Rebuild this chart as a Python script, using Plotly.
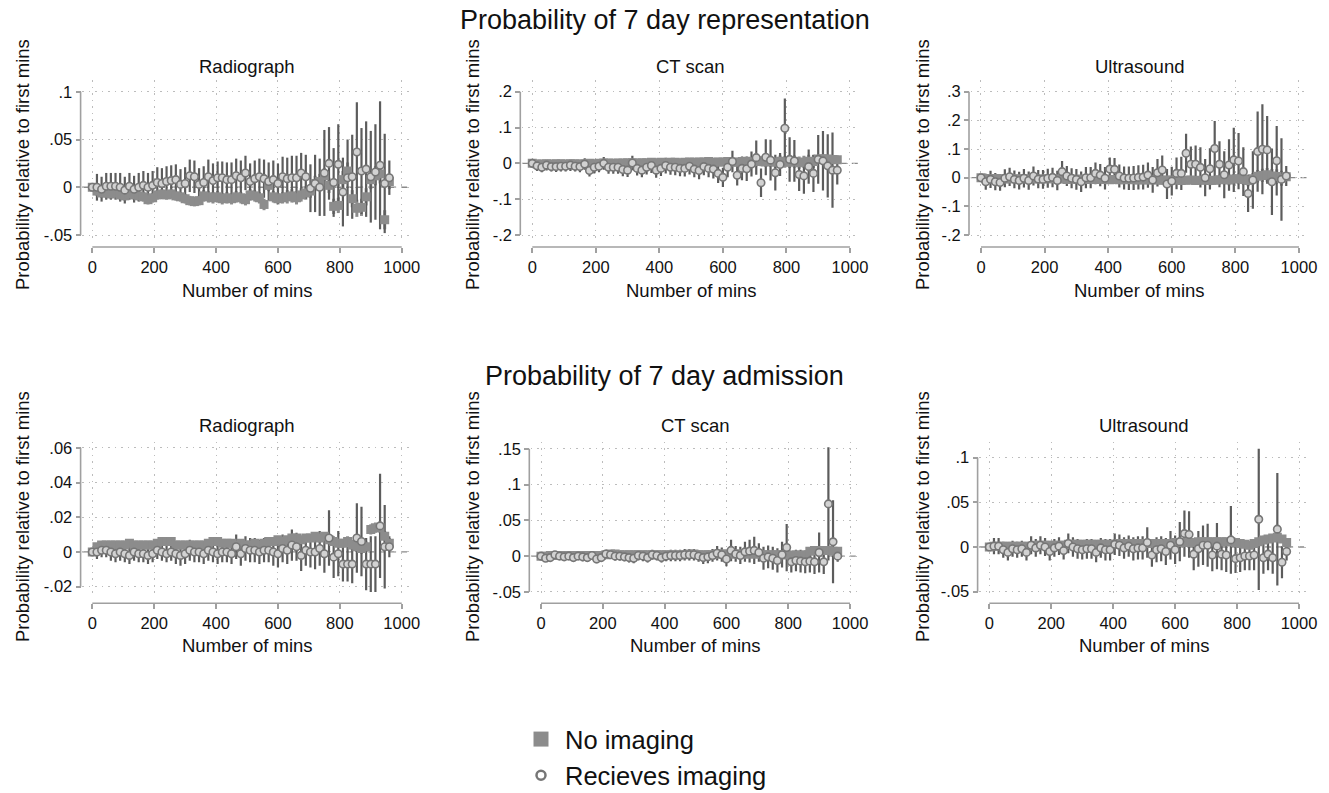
import plotly.graph_objects as go

W, H = 1329, 793
FONT = "Liberation Sans, Arial, sans-serif"
GREY_SQ = "#8c8c8c"
GREY_CIRC = "#767676"
GREY_BAR = "#5c5c5c"
AXIS_COL = "#a0a0a0"

# ---------------- data ----------------
mins = [0, 15, 30, 45, 60, 75, 90, 105, 120, 135, 150, 165, 180, 195, 210, 225,
        240, 255, 270, 285, 300, 315, 330, 345, 360, 375, 390, 405, 420, 435, 450,
        465, 480, 495, 510, 525, 540, 555, 570, 585, 600, 615, 630, 645, 660, 675,
        690, 705, 720, 735, 750, 765, 780, 795, 810, 825, 840, 855, 870, 885, 900,
        915, 930, 945, 960]

x_ticks = [0, 200, 400, 600, 800, 1000]
x_tick_labels = ["0", "200", "400", "600", "800", "1000"]

row_titles = ["Probability of 7 day representation", "Probability of 7 day admission"]
panel_titles = ["Radiograph", "CT scan", "Ultrasound", "Radiograph", "CT scan", "Ultrasound"]
series_names = ["No imaging", "Recieves imaging"]
x_title = "Number of mins"
y_title = "Probability relative to first mins"

# --- 7 day representation: Radiograph
rep_rad_img = [0, 0.000, -0.002, 0.001, 0.001, 0.001, 0.000, -0.003, 0.001, -0.002,
               0.000, 0.002, 0.000, 0.002, 0.005, 0.004, 0.006, 0.007, 0.008, 0.003,
               0.004, 0.012, 0.011, 0.003, 0.005, 0.011, 0.007, 0.010, 0.010, 0.008,
               0.008, 0.012, 0.010, 0.015, 0.006, 0.009, 0.011, 0.009, 0.006, 0.008,
               0.004, 0.011, 0.009, 0.010, 0.010, 0.015, 0.011, -0.001, 0.004, 0.000,
               0.015, 0.025, 0.005, 0.024, -0.005, 0.010, 0.011, 0.037, 0.017, 0.019,
               0.011, 0.016, 0.023, 0.004, 0.010]
rep_rad_img_ci = [0, 0.014, 0.013, 0.014, 0.014, 0.014, 0.015, 0.014, 0.014, 0.014,
                  0.015, 0.015, 0.015, 0.015, 0.016, 0.016, 0.016, 0.016, 0.016, 0.016,
                  0.017, 0.017, 0.017, 0.017, 0.017, 0.018, 0.018, 0.017, 0.017, 0.018,
                  0.018, 0.018, 0.018, 0.018, 0.019, 0.019, 0.019, 0.020, 0.020, 0.020,
                  0.021, 0.021, 0.022, 0.023, 0.023, 0.021, 0.023, 0.025, 0.030, 0.030,
                  0.045, 0.038, 0.036, 0.042, 0.036, 0.040, 0.044, 0.052, 0.045, 0.050,
                  0.048, 0.050, 0.067, 0.052, 0.018]
rep_rad_none = [0, -0.004, -0.006, -0.006, -0.007, -0.006, -0.008, -0.009, -0.007, -0.008,
                -0.009, -0.010, -0.013, -0.011, -0.008, -0.007, -0.008, -0.007, -0.009, -0.010,
                -0.012, -0.014, -0.015, -0.014, -0.009, -0.010, -0.011, -0.010, -0.012, -0.011,
                -0.012, -0.010, -0.011, -0.013, -0.008, -0.009, -0.011, -0.018, 0.002, -0.010,
                -0.012, -0.011, -0.010, -0.009, -0.011, -0.008, -0.006, -0.004, 0.004, 0.006,
                0.012, 0.002, -0.020, -0.019, 0.008, 0.017, -0.012, -0.022, -0.021, -0.010,
                0.008, 0.012, 0.014, -0.034, 0.006]
rep_rad_none_ci = [0, 0.005, 0.005, 0.005, 0.005, 0.005, 0.005, 0.005, 0.005, 0.005,
                   0.005, 0.005, 0.005, 0.005, 0.005, 0.005, 0.005, 0.005, 0.005, 0.005,
                   0.005, 0.005, 0.005, 0.005, 0.006, 0.006, 0.006, 0.006, 0.006, 0.006,
                   0.006, 0.006, 0.006, 0.006, 0.006, 0.006, 0.006, 0.006, 0.006, 0.006,
                   0.006, 0.006, 0.007, 0.007, 0.007, 0.007, 0.007, 0.007, 0.008, 0.008,
                   0.008, 0.008, 0.008, 0.008, 0.009, 0.009, 0.009, 0.009, 0.009, 0.009,
                   0.010, 0.010, 0.010, 0.010, 0.008]

# --- 7 day representation: CT scan
rep_ct_img = [0, -0.007, -0.011, -0.005, -0.009, -0.009, -0.008, -0.008, -0.005, -0.008,
              -0.009, -0.002, -0.020, -0.011, -0.008, 0.000, -0.011, -0.011, -0.011, -0.017,
              -0.019, 0.001, -0.014, -0.019, -0.011, -0.006, -0.019, -0.014, -0.006, -0.011,
              -0.011, -0.014, -0.014, -0.008, -0.016, -0.020, -0.009, -0.014, -0.016, -0.028,
              -0.039, -0.011, 0.005, -0.033, -0.014, -0.015, -0.002, 0.016, -0.054, 0.017,
              0.009, -0.026, -0.003, 0.098, 0.011, 0.007, -0.031, -0.035, -0.009, -0.028,
              0.011, 0.007, -0.007, -0.019, -0.019]
rep_ct_img_ci = [0, 0.014, 0.014, 0.015, 0.014, 0.015, 0.015, 0.015, 0.016, 0.015,
                 0.016, 0.016, 0.017, 0.017, 0.017, 0.018, 0.018, 0.018, 0.018, 0.019,
                 0.019, 0.020, 0.020, 0.020, 0.020, 0.021, 0.021, 0.021, 0.022, 0.021,
                 0.022, 0.022, 0.023, 0.023, 0.023, 0.024, 0.024, 0.025, 0.026, 0.027,
                 0.027, 0.028, 0.030, 0.029, 0.033, 0.034, 0.035, 0.048, 0.040, 0.050,
                 0.057, 0.050, 0.032, 0.083, 0.062, 0.058, 0.046, 0.050, 0.048, 0.052,
                 0.068, 0.083, 0.088, 0.105, 0.040]
rep_ct_none = [0, -0.002, -0.002, -0.001, -0.002, -0.001, -0.001, -0.002, -0.001, -0.001,
               -0.002, -0.001, 0.000, -0.001, 0.000, 0.001, 0.001, 0.000, 0.001, 0.001,
               0.002, 0.002, 0.001, 0.002, 0.002, 0.003, 0.002, 0.003, 0.002, 0.003,
               0.003, 0.002, 0.003, 0.004, 0.003, 0.004, 0.004, 0.005, 0.003, 0.004,
               0.004, 0.005, 0.004, 0.003, 0.005, 0.006, 0.004, 0.005, 0.006, 0.004,
               0.005, 0.003, 0.006, 0.004, 0.003, 0.005, 0.002, 0.004, 0.006, 0.005,
               0.012, 0.013, 0.012, 0.011, 0.010]
rep_ct_none_ci = [0, 0.004, 0.004, 0.004, 0.004, 0.004, 0.004, 0.004, 0.004, 0.004,
                  0.005, 0.005, 0.005, 0.005, 0.005, 0.005, 0.005, 0.005, 0.005, 0.005,
                  0.005, 0.006, 0.006, 0.006, 0.006, 0.006, 0.006, 0.006, 0.006, 0.007,
                  0.007, 0.007, 0.007, 0.007, 0.008, 0.008, 0.008, 0.008, 0.009, 0.009,
                  0.009, 0.010, 0.010, 0.010, 0.011, 0.011, 0.012, 0.013, 0.014, 0.014,
                  0.015, 0.015, 0.016, 0.016, 0.016, 0.017, 0.017, 0.017, 0.018, 0.018,
                  0.012, 0.012, 0.012, 0.012, 0.012]

# --- 7 day representation: Ultrasound
rep_us_img = [0, -0.014, -0.006, -0.014, -0.017, -0.002, 0.003, -0.006, -0.010, -0.002,
              -0.010, 0.006, -0.005, -0.006, -0.002, 0.001, -0.010, 0.021, 0.006, -0.002,
              -0.006, -0.014, 0.000, 0.000, 0.015, 0.009, -0.002, 0.030, 0.029, 0.006,
              -0.001, -0.002, -0.001, 0.001, 0.002, 0.009, -0.008, 0.017, 0.027, -0.022,
              -0.012, 0.015, 0.015, 0.085, 0.047, 0.047, 0.036, 0.000, 0.031, 0.102,
              0.047, 0.010, 0.044, 0.062, 0.058, 0.021, -0.055, -0.008, 0.091, 0.099,
              0.097, -0.014, 0.059, -0.006, 0.006]
rep_us_img_ci = [0, 0.028, 0.030, 0.030, 0.029, 0.031, 0.032, 0.031, 0.031, 0.032,
                 0.032, 0.033, 0.032, 0.033, 0.033, 0.034, 0.034, 0.037, 0.035, 0.035,
                 0.036, 0.036, 0.037, 0.037, 0.038, 0.039, 0.039, 0.040, 0.040, 0.040,
                 0.040, 0.041, 0.042, 0.042, 0.043, 0.044, 0.045, 0.048, 0.050, 0.052,
                 0.050, 0.055, 0.058, 0.068, 0.062, 0.065, 0.070, 0.065, 0.072, 0.096,
                 0.080, 0.082, 0.090, 0.112, 0.098, 0.085, 0.065, 0.100, 0.140, 0.157,
                 0.118, 0.116, 0.121, 0.144, 0.035]
rep_us_none = [0, -0.003, -0.004, -0.003, -0.004, -0.005, -0.004, -0.004, -0.005, -0.004,
               -0.005, -0.004, -0.005, -0.005, -0.004, -0.004, -0.005, -0.004, -0.006, -0.005,
               -0.006, -0.005, -0.006, -0.005, -0.006, -0.005, -0.006, -0.007, -0.006, -0.007,
               -0.007, -0.006, -0.007, -0.008, -0.007, -0.008, -0.007, -0.008, -0.009, -0.008,
               -0.009, -0.008, -0.010, -0.009, -0.008, -0.010, -0.009, -0.008, -0.010, -0.009,
               -0.007, -0.006, -0.008, -0.005, -0.004, -0.006, -0.010, -0.004, 0.005, 0.008,
               0.010, 0.006, 0.004, -0.002, 0.003]
rep_us_none_ci = [0, 0.005, 0.005, 0.005, 0.005, 0.005, 0.006, 0.006, 0.006, 0.006,
                  0.006, 0.006, 0.006, 0.007, 0.007, 0.007, 0.007, 0.007, 0.007, 0.007,
                  0.008, 0.008, 0.008, 0.008, 0.008, 0.008, 0.009, 0.009, 0.009, 0.009,
                  0.009, 0.010, 0.010, 0.010, 0.010, 0.011, 0.011, 0.011, 0.012, 0.012,
                  0.012, 0.013, 0.013, 0.014, 0.014, 0.014, 0.015, 0.015, 0.016, 0.016,
                  0.017, 0.017, 0.018, 0.018, 0.019, 0.019, 0.020, 0.020, 0.022, 0.023,
                  0.024, 0.024, 0.025, 0.026, 0.014]

# --- 7 day admission: Radiograph
adm_rad_img = [0, 0.000, 0.001, 0.001, 0.000, -0.001, 0.000, -0.001, -0.002, 0.000,
               -0.001, -0.001, -0.002, -0.001, 0.001, 0.000, -0.001, 0.000, -0.001, -0.002,
               -0.001, 0.001, 0.000, 0.000, -0.001, 0.001, 0.000, -0.001, 0.000, 0.000,
               -0.001, 0.003, -0.001, 0.002, 0.001, 0.001, 0.000, 0.001, 0.001, 0.000,
               -0.001, 0.002, 0.001, 0.004, 0.003, -0.002, 0.001, 0.000, 0.000, 0.002,
               -0.001, 0.008, -0.003, -0.001, -0.007, -0.007, -0.007, 0.008, 0.006, -0.007,
               -0.007, -0.007, 0.015, 0.003, 0.003]
adm_rad_img_ci = [0, 0.004, 0.004, 0.004, 0.005, 0.005, 0.005, 0.005, 0.005, 0.005,
                  0.005, 0.005, 0.005, 0.005, 0.005, 0.005, 0.005, 0.005, 0.006, 0.006,
                  0.006, 0.006, 0.006, 0.006, 0.006, 0.006, 0.006, 0.006, 0.006, 0.006,
                  0.006, 0.007, 0.007, 0.007, 0.007, 0.007, 0.007, 0.007, 0.007, 0.008,
                  0.008, 0.008, 0.008, 0.009, 0.008, 0.009, 0.009, 0.009, 0.010, 0.010,
                  0.011, 0.016, 0.012, 0.013, 0.010, 0.010, 0.011, 0.020, 0.020, 0.015,
                  0.016, 0.016, 0.030, 0.024, 0.006]
adm_rad_none = [0, 0.003, 0.004, 0.004, 0.004, 0.004, 0.004, 0.004, 0.005, 0.004,
                0.004, 0.004, 0.004, 0.004, 0.005, 0.006, 0.006, 0.006, 0.004, 0.004,
                0.004, 0.004, 0.004, 0.004, 0.004, 0.005, 0.006, 0.006, 0.005, 0.005,
                0.005, 0.004, 0.005, 0.004, 0.004, 0.005, 0.004, 0.005, 0.006, 0.006,
                0.007, 0.006, 0.007, 0.008, 0.008, 0.007, 0.008, 0.008, 0.009, 0.008,
                0.009, 0.007, 0.006, 0.005, 0.005, 0.006, 0.004, 0.003, 0.002, 0.003,
                0.013, 0.014, 0.014, 0.009, 0.005]
adm_rad_none_ci = [0, 0.001, 0.001, 0.001, 0.001, 0.001, 0.001, 0.001, 0.001, 0.001,
                   0.001, 0.001, 0.001, 0.001, 0.001, 0.001, 0.001, 0.001, 0.001, 0.001,
                   0.0015, 0.0015, 0.0015, 0.0015, 0.0015, 0.0015, 0.0015, 0.0015, 0.0015, 0.0015,
                   0.0015, 0.0015, 0.0015, 0.0015, 0.0015, 0.0015, 0.0015, 0.002, 0.002, 0.002,
                   0.002, 0.002, 0.002, 0.002, 0.002, 0.002, 0.002, 0.002, 0.0025, 0.0025,
                   0.0025, 0.0025, 0.0025, 0.0025, 0.0025, 0.003, 0.003, 0.003, 0.003, 0.003,
                   0.003, 0.003, 0.003, 0.003, 0.003]

# --- 7 day admission: CT scan
adm_ct_img = [0, -0.003, -0.002, 0.002, 0.000, -0.001, 0.000, -0.002, 0.000, -0.001,
              -0.002, 0.001, -0.004, -0.002, 0.003, 0.002, 0.000, 0.000, -0.001, -0.002,
              -0.003, 0.001, 0.000, -0.002, 0.002, 0.001, -0.002, 0.000, 0.001, 0.001,
              0.001, 0.002, 0.002, 0.002, 0.000, -0.002, -0.001, 0.001, 0.004, 0.002,
              -0.004, 0.008, 0.003, 0.001, 0.006, 0.007, 0.008, 0.005, -0.003, -0.001,
              -0.003, -0.006, 0.002, 0.012, -0.008, -0.006, -0.007, -0.008, -0.007, -0.008,
              0.005, -0.008, 0.073, 0.020, 0.000]
adm_ct_img_ci = [0, 0.005, 0.005, 0.005, 0.005, 0.005, 0.005, 0.005, 0.005, 0.006,
                 0.006, 0.006, 0.006, 0.006, 0.006, 0.006, 0.006, 0.006, 0.006, 0.007,
                 0.007, 0.007, 0.007, 0.007, 0.007, 0.007, 0.007, 0.007, 0.008, 0.008,
                 0.008, 0.008, 0.008, 0.008, 0.008, 0.009, 0.009, 0.009, 0.010, 0.010,
                 0.010, 0.015, 0.011, 0.012, 0.014, 0.016, 0.019, 0.013, 0.016, 0.016,
                 0.016, 0.017, 0.018, 0.033, 0.015, 0.015, 0.016, 0.016, 0.016, 0.017,
                 0.028, 0.017, 0.079, 0.058, 0.008]
adm_ct_none = [0, 0.000, 0.001, 0.001, 0.001, 0.001, 0.001, 0.001, 0.001, 0.001,
               0.001, 0.001, 0.001, 0.001, 0.002, 0.003, 0.003, 0.002, 0.002, 0.002,
               0.002, 0.002, 0.002, 0.002, 0.002, 0.002, 0.002, 0.002, 0.002, 0.002,
               0.002, 0.002, 0.003, 0.003, 0.002, 0.002, 0.002, 0.002, 0.003, 0.003,
               0.003, 0.003, 0.003, 0.003, 0.003, 0.003, 0.003, 0.003, 0.002, 0.002,
               0.002, 0.002, 0.002, 0.002, 0.001, 0.002, 0.001, 0.002, 0.007, 0.008,
               0.008, 0.008, 0.008, 0.007, 0.007]
adm_ct_none_ci = [0, 0.002, 0.002, 0.002, 0.002, 0.002, 0.002, 0.002, 0.002, 0.002,
                  0.002, 0.002, 0.002, 0.002, 0.002, 0.002, 0.0025, 0.0025, 0.0025, 0.0025,
                  0.0025, 0.0025, 0.0025, 0.0025, 0.0025, 0.0025, 0.0025, 0.0025, 0.003, 0.003,
                  0.003, 0.003, 0.003, 0.003, 0.003, 0.003, 0.003, 0.003, 0.0035, 0.0035,
                  0.0035, 0.0035, 0.0035, 0.0035, 0.0035, 0.004, 0.004, 0.004, 0.004, 0.004,
                  0.004, 0.004, 0.004, 0.0045, 0.0045, 0.0045, 0.0045, 0.0045, 0.005, 0.005,
                  0.005, 0.005, 0.005, 0.005, 0.005]

# --- 7 day admission: Ultrasound
adm_us_img = [0, 0.001, 0.001, -0.003, -0.006, -0.002, -0.003, -0.002, -0.006, 0.002,
              -0.001, 0.002, 0.000, -0.005, -0.001, 0.001, -0.004, 0.004, 0.000, -0.002,
              -0.003, -0.002, -0.002, -0.006, -0.001, -0.003, -0.003, 0.003, 0.002, -0.001,
              0.001, -0.002, -0.001, -0.001, 0.005, -0.009, -0.003, -0.002, -0.005, 0.002,
              -0.003, 0.006, 0.015, 0.014, -0.008, -0.002, 0.002, 0.002, -0.009, 0.001,
              -0.008, -0.009, 0.008, -0.013, -0.012, -0.010, -0.010, -0.009, 0.031, -0.012,
              -0.008, -0.012, 0.020, -0.017, -0.005]
adm_us_img_ci = [0, 0.009, 0.009, 0.009, 0.009, 0.009, 0.009, 0.009, 0.009, 0.010,
                 0.010, 0.010, 0.010, 0.010, 0.010, 0.010, 0.010, 0.011, 0.011, 0.011,
                 0.011, 0.011, 0.011, 0.011, 0.011, 0.012, 0.012, 0.012, 0.012, 0.012,
                 0.012, 0.013, 0.013, 0.013, 0.017, 0.013, 0.014, 0.014, 0.015, 0.016,
                 0.016, 0.022, 0.026, 0.026, 0.018, 0.020, 0.022, 0.024, 0.018, 0.026,
                 0.018, 0.019, 0.038, 0.016, 0.016, 0.016, 0.016, 0.017, 0.079, 0.018,
                 0.018, 0.018, 0.063, 0.018, 0.010]
adm_us_none = [0, 0.001, 0.001, 0.001, 0.001, 0.001, 0.001, 0.001, 0.001, 0.001,
               0.002, 0.002, 0.002, 0.002, 0.002, 0.002, 0.002, 0.003, 0.003, 0.003,
               0.003, 0.003, 0.003, 0.003, 0.003, 0.003, 0.003, 0.003, 0.004, 0.004,
               0.004, 0.004, 0.004, 0.004, 0.004, 0.004, 0.004, 0.004, 0.004, 0.004,
               0.005, 0.005, 0.005, 0.005, 0.005, 0.006, 0.006, 0.006, 0.006, 0.006,
               0.006, 0.006, 0.006, 0.005, 0.004, 0.003, 0.002, 0.004, 0.006, 0.008,
               0.009, 0.010, 0.011, 0.009, 0.005]
adm_us_none_ci = [0, 0.002, 0.002, 0.002, 0.002, 0.002, 0.002, 0.002, 0.002, 0.002,
                  0.002, 0.002, 0.002, 0.002, 0.002, 0.0025, 0.0025, 0.0025, 0.0025, 0.0025,
                  0.0025, 0.0025, 0.0025, 0.0025, 0.0025, 0.0025, 0.003, 0.003, 0.003, 0.003,
                  0.003, 0.003, 0.003, 0.003, 0.003, 0.003, 0.003, 0.0035, 0.0035, 0.0035,
                  0.0035, 0.0035, 0.0035, 0.0035, 0.004, 0.004, 0.004, 0.004, 0.004, 0.004,
                  0.004, 0.004, 0.004, 0.004, 0.004, 0.004, 0.004, 0.0045, 0.0045, 0.0045,
                  0.0045, 0.0045, 0.0045, 0.0045, 0.004]

y_ticks = [
    [-0.05, 0, 0.05, 0.1],
    [-0.2, -0.1, 0, 0.1, 0.2],
    [-0.2, -0.1, 0, 0.1, 0.2, 0.3],
    [-0.02, 0, 0.02, 0.04, 0.06],
    [-0.05, 0, 0.05, 0.1, 0.15],
    [-0.05, 0, 0.05, 0.1],
]
y_tick_labels = [
    ["-.05", "0", ".05", ".1"],
    ["-.2", "-.1", "0", ".1", ".2"],
    ["-.2", "-.1", "0", ".1", ".2", ".3"],
    ["-.02", "0", ".02", ".04", ".06"],
    ["-.05", "0", ".05", ".1", ".15"],
    ["-.05", "0", ".05", ".1"],
]

panel_data = [
    (rep_rad_none, rep_rad_none_ci, rep_rad_img, rep_rad_img_ci),
    (rep_ct_none, rep_ct_none_ci, rep_ct_img, rep_ct_img_ci),
    (rep_us_none, rep_us_none_ci, rep_us_img, rep_us_img_ci),
    (adm_rad_none, adm_rad_none_ci, adm_rad_img, adm_rad_img_ci),
    (adm_ct_none, adm_ct_none_ci, adm_ct_img, adm_ct_img_ci),
    (adm_us_none, adm_us_none_ci, adm_us_img, adm_us_img_ci),
]

# ---------------- layout geometry (pixels) ----------------
XRANGE = [-33, 1030]
geo = [
    ((82.1, 411.0), (80.0, 242.0), (-0.0573, 0.1123)),
    ((521.8, 859.5), (80.0, 242.0), (-0.2195, 0.2327)),
    ((970.5, 1308.5), (80.0, 242.0), (-0.2244, 0.3408)),
    ((82.1, 411.0), (441.7, 598.3), (-0.0267, 0.0635)),
    ((530.8, 859.3), (441.7, 598.3), (-0.0589, 0.1599)),
    ((979.1, 1308.3), (441.7, 598.3), (-0.0574, 0.1179)),
]
xline_py = [247.0, 247.0, 247.0, 603.3, 603.3, 603.3]
xtitle_py = [290.0, 290.0, 290.0, 645.0, 645.0, 645.0]
ytitle_px = [22.0, 472.0, 922.0, 22.0, 472.0, 922.0]
ytitle_py = [165.0, 165.0, 165.0, 517.0, 517.0, 517.0]
ptitle_py = [67.0, 67.0, 67.0, 425.0, 425.0, 425.0]
rowtitle_py = [20.0, 376.0]


def px2x(px):
    return px / W


def py2y(py):
    return 1 - py / H


fig = go.Figure()
layout = dict(
    width=W, height=H,
    margin=dict(l=0, r=0, t=0, b=0, autoexpand=False),
    paper_bgcolor="white", plot_bgcolor="white",
    font=dict(family=FONT, color="#111111"),
    showlegend=True,
)
shapes = []
annotations = []
bar_traces, marker_traces = [], []

for i in range(6):
    (xl, xr), (yt, yb), yr = geo[i]
    none_v, none_ci, img_v, img_ci = panel_data[i]
    sx = "" if i == 0 else str(i + 1)
    xa, ya = "x" + sx, "y" + sx

    # confidence intervals of both series first (drawn underneath all markers)
    bar_traces.append(go.Scatter(
        x=mins, y=none_v, mode="markers", xaxis=xa, yaxis=ya,
        marker=dict(size=1, opacity=0),
        error_y=dict(type="data", array=none_ci, visible=True, color=GREY_SQ,
                     thickness=3, width=0),
        showlegend=False, hoverinfo="skip", name=series_names[0]))
    bar_traces.append(go.Scatter(
        x=mins, y=img_v, mode="markers", xaxis=xa, yaxis=ya,
        marker=dict(size=1, opacity=0),
        error_y=dict(type="data", array=img_ci, visible=True, color=GREY_BAR,
                     thickness=2.2, width=0),
        showlegend=False, hoverinfo="skip", name=series_names[1]))
    marker_traces.append(go.Scatter(
        x=mins, y=none_v, mode="markers", xaxis=xa, yaxis=ya,
        marker=dict(symbol="square", size=9, color=GREY_SQ, line=dict(width=0)),
        showlegend=False, hoverinfo="skip", name=series_names[0]))
    marker_traces.append(go.Scatter(
        x=mins, y=img_v, mode="markers", xaxis=xa, yaxis=ya,
        marker=dict(symbol="circle", size=7.5, color="#d2d2d2",
                    line=dict(color=GREY_CIRC, width=1.6)),
        showlegend=False, hoverinfo="skip", name=series_names[1]))

    grid = dict(showgrid=True, gridcolor="#bcbcbc", gridwidth=1.3, griddash="1.5px,5px")
    layout["xaxis" + sx] = dict(
        domain=[px2x(xl), px2x(xr)], range=XRANGE, anchor="free",
        position=py2y(xline_py[i]), tickmode="array", tickvals=x_ticks,
        ticktext=x_tick_labels, ticks="outside", ticklen=5, tickwidth=1.5,
        tickcolor=AXIS_COL, showline=False, zeroline=False,
        tickfont=dict(size=16.5, family=FONT, color="#111111"), **grid)
    layout["yaxis" + sx] = dict(
        domain=[py2y(yb), py2y(yt)], range=list(yr), anchor="free",
        position=px2x(xl - 1.5), tickmode="array", tickvals=y_ticks[i],
        ticktext=y_tick_labels[i], ticks="outside", ticklen=5, tickwidth=1.5,
        tickcolor=AXIS_COL, showline=False, zeroline=False,
        tickfont=dict(size=16.5, family=FONT, color="#111111"), **grid)

    # dashed reference line at zero
    shapes.append(dict(type="line", xref=xa, yref=ya, x0=XRANGE[0], x1=XRANGE[1],
                       y0=0, y1=0, layer="below",
                       line=dict(color="#8a8a8a", width=1.3, dash="6px,5px")))

    # Stata-style axis lines spanning only the tick range
    def vx(v):
        return xl + (v - XRANGE[0]) / (XRANGE[1] - XRANGE[0]) * (xr - xl)

    def vy(v):
        return yt + (yr[1] - v) / (yr[1] - yr[0]) * (yb - yt)

    shapes.append(dict(type="line", xref="paper", yref="paper",
                       x0=px2x(vx(x_ticks[0])), x1=px2x(vx(x_ticks[-1])),
                       y0=py2y(xline_py[i]), y1=py2y(xline_py[i]),
                       line=dict(color=AXIS_COL, width=1.6)))
    shapes.append(dict(type="line", xref="paper", yref="paper",
                       x0=px2x(xl - 1.5), x1=px2x(xl - 1.5),
                       y0=py2y(vy(y_ticks[i][0])), y1=py2y(vy(y_ticks[i][-1])),
                       line=dict(color=AXIS_COL, width=1.6)))

    # titles
    annotations.append(dict(text=panel_titles[i], x=px2x((xl + xr) / 2), y=py2y(ptitle_py[i]),
                            xref="paper", yref="paper", showarrow=False,
                            xanchor="center", yanchor="middle",
                            font=dict(size=18.5, family=FONT, color="#111111")))
    annotations.append(dict(text=x_title, x=px2x(vx(500)), y=py2y(xtitle_py[i]),
                            xref="paper", yref="paper", showarrow=False,
                            xanchor="center", yanchor="middle",
                            font=dict(size=18.5, family=FONT, color="#111111")))
    annotations.append(dict(text=y_title, x=px2x(ytitle_px[i]), y=py2y(ytitle_py[i]),
                            xref="paper", yref="paper", showarrow=False, textangle=-90,
                            xanchor="center", yanchor="middle",
                            font=dict(size=18.5, family=FONT, color="#111111")))

for t in bar_traces + marker_traces:
    fig.add_trace(t)

for r in range(2):
    annotations.append(dict(text=row_titles[r], x=0.5, y=py2y(rowtitle_py[r]),
                            xref="paper", yref="paper", showarrow=False,
                            xanchor="center", yanchor="middle",
                            font=dict(size=27, family=FONT, color="#111111")))

# legend entries
fig.add_trace(go.Scatter(x=[None], y=[None], mode="markers", name=series_names[0],
                         legendgroup="a",
                         marker=dict(symbol="square", size=15, color=GREY_SQ)))
fig.add_trace(go.Scatter(x=[None], y=[None], mode="markers", name=series_names[1],
                         legendgroup="b",
                         marker=dict(symbol="circle-open", size=9, color=GREY_CIRC,
                                     line=dict(width=2.5, color=GREY_CIRC))))

layout["legend"] = dict(x=px2x(517), y=py2y(716), xanchor="left", yanchor="top",
                        font=dict(size=25.5, family=FONT, color="#111111"),
                        itemwidth=38, tracegroupgap=0, bgcolor="rgba(0,0,0,0)")
layout["shapes"] = shapes
layout["annotations"] = annotations
fig.update_layout(**layout)

fig.write_html("out.html", config={"displayModeBar": False},
               post_script="document.body.style.margin='0';document.body.style.overflow='hidden';")
